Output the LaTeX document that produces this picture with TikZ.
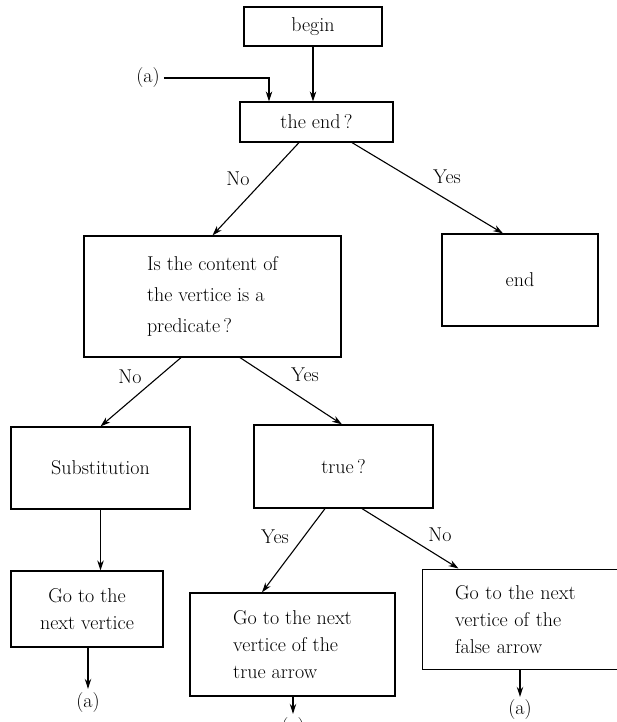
\documentclass[tikz,border=0pt]{standalone}
\usepackage{tikz}
\usetikzlibrary{arrows.meta}
\tikzstyle{box} = [draw, rectangle, line width = 1.2pt, inner sep = 0pt, align = left]
\tikzstyle{arr} = [line width = 1.1pt, -{Stealth[length = 10pt, width = 6.5pt]}]
\tikzstyle{lbl} = [inner sep = 0pt]

\begin{document}
\begin{tikzpicture}[x = 1pt, y = -1pt, font = \fontsize{20}{27}\selectfont]
        \useasboundingbox (0, 0) rectangle (616, 722);

        % boxes
        \node [box, minimum width = 138pt, minimum height = 39pt] (begin) at (313, 26.5) {begin};
        \node [box, minimum width = 153pt, minimum height = 40pt] (theend) at (316.5, 122) {the end\,?};
        \node [box, minimum width = 257pt, minimum height = 121pt, font = \fontsize{20}{31}\selectfont]
            (pred) at (212.5, 296.5) {Is the content of\\the vertice is a\\predicate\,?};
        \node [box, minimum width = 156pt, minimum height = 92pt] (endbox) at (520, 280) {end};
        \node [box, minimum width = 179pt, minimum height = 82pt] (subst) at (100.5, 468) {Substitution};
        \node [box, minimum width = 179pt, minimum height = 83pt] (truebox) at (343.5, 466.5) {true\,?};
        \node [box, minimum width = 152pt, minimum height = 76pt, align = center] (gonext) at (87, 609)
            {Go to the\\next vertice};
        \node [box, minimum width = 205pt, minimum height = 103pt] (gotrue) at (292.5, 644.5)
            {Go to the next\\vertice of the\\true arrow};
        \node [box, anchor = north west, text width = 143pt, inner xsep = 33pt, minimum height = 100pt]
            (gofalse) at (421.5, 568.5) {Go to the next\\vertice of the\\false arrow};

        % (a) marks
        \node [lbl] (atop) at (148, 78) {(a)};
        \node [lbl] (aleft) at (88, 703) {(a)};
        \node [lbl] (amid) at (293, 728) {(a)};
        \node [lbl] (aright) at (520, 710) {(a)};

        % branch labels
        \node [lbl] (no1) at (238, 179) {No};
        \node [lbl] (yes1) at (447, 177) {Yes};
        \node [lbl] (no2) at (130, 377) {No};
        \node [lbl] (yes2) at (305, 375) {Yes};
        \node [lbl] (yes3) at (275, 537) {Yes};
        \node [lbl] (no3) at (440, 535) {No};

        % connectors
        \draw [arr] ([xshift = 4pt] atop.east) -| ([xshift = -47.5pt] theend.north);
        \draw [arr] (begin.south) -- (begin.south |- theend.north);
        \draw [arr] ([xshift = -17.5pt] theend.south) -- (pred.north);
        \draw [arr] ([xshift = 35.5pt] theend.south) -- ([xshift = -17pt] endbox.north);
        \draw [arr] ([xshift = -31.5pt] pred.south) -- (subst.north);
        \draw [arr] ([xshift = 27.5pt] pred.south) -- ([xshift = -1.5pt] truebox.north);
        \draw [arr] (subst.south) -- (subst.south |- gonext.north);
        \draw [arr, shorten > = 4pt] (gonext.south -| aleft) -- (aleft.north);
        \draw [arr] ([xshift = -18.5pt] truebox.south) -- ([xshift = -30.5pt] gotrue.north);
        \draw [arr] ([xshift = 18.5pt] truebox.south) -- ([xshift = 37pt] gofalse.north west);
        \draw [arr, shorten > = 4pt] (gotrue.south -| amid) -- (amid.north);
        \draw [arr, shorten > = 3pt] (gofalse.south -| aright) -- (aright.north);
    \end{tikzpicture}
\end{document}
